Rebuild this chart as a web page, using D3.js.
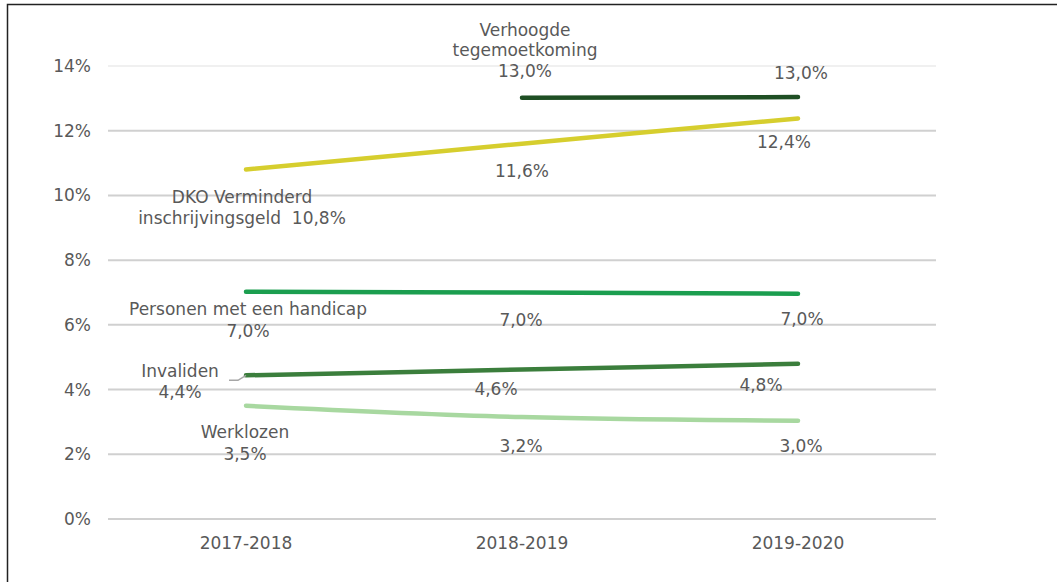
<!DOCTYPE html>
<html>
<head>
<meta charset="utf-8">
<script src="https://cdn.jsdelivr.net/npm/d3@7"></script>
<style>
  body { margin: 0; background: #fff; }
  svg text { font-family: "DejaVu Sans", Verdana, sans-serif; fill: #595959; }
</style>
</head>
<body>
<div id="chart"></div>
<script>
// set the dimensions of the picture
var width = 1057
var height = 582

// Data
var years = ["2017-2018", "2018-2019", "2019-2020"]
var yTicks = [0, 2, 4, 6, 8, 10, 12, 14]

var verhoogde = [null, 13.02, 13.04]
var dko = [10.8, 11.6, 12.38]
var personen = [7.02, 7.0, 6.96]
var invaliden = [4.44, 4.62, 4.8]
var werklozen = [3.5, 3.15, 3.04]

var valueLabels = {
  verhoogde: [null, "13,0%", "13,0%"],
  dko: ["10,8%", "11,6%", "12,4%"],
  personen: ["7,0%", "7,0%", "7,0%"],
  invaliden: ["4,4%", "4,6%", "4,8%"],
  werklozen: ["3,5%", "3,2%", "3,0%"]
}

// series: name, values, colour, label text lines (the first point carries the series name)
var series = [
  { key: "verhoogde", values: verhoogde, color: "#1f4f24", name: ["Verhoogde", "tegemoetkoming"], nameAt: 1 },
  { key: "dko", values: dko, color: "#d6ce2e", name: ["DKO Verminderd"], nameAt: 0 },
  { key: "personen", values: personen, color: "#1b9e4f", name: ["Personen met een handicap"], nameAt: 0 },
  { key: "invaliden", values: invaliden, color: "#3b7e3c", name: ["Invaliden"], nameAt: 0 },
  { key: "werklozen", values: werklozen, color: "#a8d8a0", name: ["Werklozen"], nameAt: 0 }
]

// label offsets (dx, dy) from each point, in px
var labelOffsets = {
  verhoogde: [null, [3, -27], [3, -24]],
  dko: [[-4, 49], [0, 27], [-14, 24]],
  personen: [[2, 39], [-1, 28], [4, 25]],
  invaliden: [[-66, 17], [-26, 20], [-37, 21]],
  werklozen: [[-1, 48], [-1, 29], [3, 25]]
}

var svg = d3.select("#chart")
  .append("svg")
    .attr("width", width)
    .attr("height", height)

// frame
svg.append("path")
  .attr("d", "M7.5," + height + " L7.5,4.5 L" + width + ",4.5")
  .attr("fill", "none")
  .attr("stroke", "#222")
  .attr("stroke-width", 1.5)

var x = d3.scalePoint()
  .domain(years)
  .range([246, 798])

var y = d3.scaleLinear()
  .domain([0, 14])
  .range([519, 66])

// grid lines
svg.append("g")
  .selectAll("line")
  .data(yTicks)
  .enter().append("line")
    .attr("x1", 108)
    .attr("x2", 936)
    .attr("y1", function(d){ return y(d) })
    .attr("y2", function(d){ return y(d) })
    .attr("stroke", function(d){ return d == 14 ? "#f0f0f0" : "#d0d0d0" })
    .attr("stroke-width", 2)

// y axis labels
svg.append("g")
  .selectAll("text")
  .data(yTicks)
  .enter().append("text")
    .attr("x", 91)
    .attr("y", function(d){ return y(d) })
    .attr("dy", "0.35em")
    .attr("text-anchor", "end")
    .style("font-size", "17px")
    .text(function(d){ return d + "%" })

// x axis labels
svg.append("g")
  .selectAll("text")
  .data(years)
  .enter().append("text")
    .attr("x", function(d){ return x(d) })
    .attr("y", 549)
    .attr("text-anchor", "middle")
    .style("font-size", "17px")
    .text(function(d){ return d })

// lines
var line = d3.line()
  .defined(function(d){ return d != null })
  .x(function(d, i){ return x(years[i]) })
  .y(function(d){ return y(d) })
  .curve(d3.curveCatmullRom)

svg.append("g")
  .selectAll("path")
  .data(series)
  .enter().append("path")
    .attr("d", function(d){ return line(d.values) })
    .attr("fill", "none")
    .attr("stroke", function(d){ return d.color })
    .attr("stroke-width", 4.5)
    .attr("stroke-linecap", "round")

// leader line for Invaliden
var p0 = [x(years[0]), y(invaliden[0])]
svg.append("path")
  .attr("d", "M" + (p0[0] - 17) + "," + (p0[1] + 5) + " L" + (p0[0] - 8) + "," + (p0[1] + 5) + " L" + p0[0] + "," + p0[1])
  .attr("fill", "none")
  .attr("stroke", "#a6a6a6")
  .attr("stroke-width", 1.5)

// data labels
var labels = svg.append("g").style("font-size", "17px")
series.forEach(function(s) {
  s.values.forEach(function(v, i) {
    if (v == null) return
    var off = labelOffsets[s.key][i]
    var cx = x(years[i]) + off[0]
    var cy = y(v) + off[1]
    var txt = labels.append("text")
      .attr("x", cx)
      .attr("y", cy)
      .attr("dy", "0.35em")
      .attr("text-anchor", "middle")
    if (i == s.nameAt) {
      if (s.key == "dko") {
        txt.attr("y", cy - 21).text(s.name[0])
        labels.append("text")
          .attr("x", cx).attr("y", cy).attr("dy", "0.35em")
          .attr("text-anchor", "middle")
          .attr("xml:space", "preserve")
          .text("inschrijvingsgeld  " + valueLabels[s.key][i])
        return
      }
      var lines = s.name.concat([valueLabels[s.key][i]])
      var step = s.key == "verhoogde" ? 20.5 : 21.5
      lines.forEach(function(t, k) {
        labels.append("text")
          .attr("x", cx)
          .attr("y", cy - (lines.length - 1 - k) * step)
          .attr("dy", "0.35em")
          .attr("text-anchor", "middle")
          .text(t)
      })
      txt.remove()
    } else {
      txt.text(valueLabels[s.key][i])
    }
  })
})
</script>
</body>
</html>
